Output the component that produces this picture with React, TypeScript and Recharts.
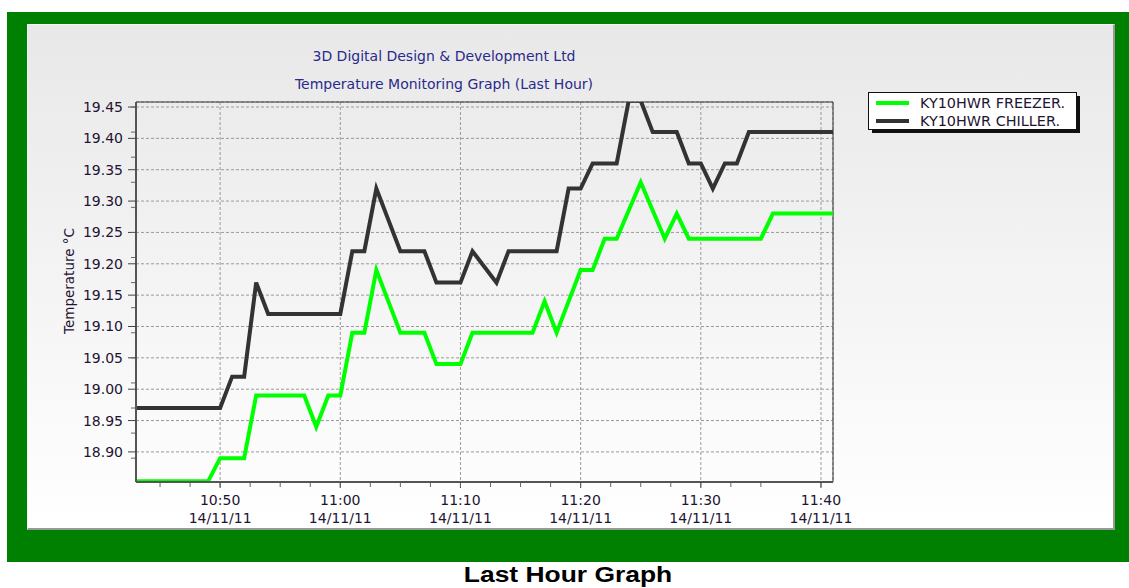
import { LineChart, Line, XAxis, YAxis, CartesianGrid, Legend, ReferenceArea } from "recharts";

// sample times, minutes after 10:00 on 14/11/11
const sampleMinutes = [
  43, 44, 45, 46, 47, 48, 49, 50, 51, 52, 53, 54, 55, 56, 57, 58, 59, 60, 61, 62,
  63, 64, 65, 66, 67, 68, 69, 70, 71, 72, 73, 74, 75, 76, 77, 78, 79, 80, 81, 82,
  83, 84, 85, 86, 87, 88, 89, 90, 91, 92, 93, 94, 95, 96, 97, 98, 99, 100, 101,
];

const freezer = [
  18.853, 18.853, 18.853, 18.853, 18.853, 18.853, 18.853, 18.89, 18.89, 18.89,
  18.99, 18.99, 18.99, 18.99, 18.99, 18.94, 18.99, 18.99, 19.09, 19.09,
  19.19, 19.14, 19.09, 19.09, 19.09, 19.04, 19.04, 19.04, 19.09, 19.09,
  19.09, 19.09, 19.09, 19.09, 19.14, 19.09, 19.14, 19.19, 19.19, 19.24,
  19.24, 19.285, 19.33, 19.285, 19.24, 19.28, 19.24, 19.24, 19.24, 19.24,
  19.24, 19.24, 19.24, 19.28, 19.28, 19.28, 19.28, 19.28, 19.28,
];

const chiller = [
  18.97, 18.97, 18.97, 18.97, 18.97, 18.97, 18.97, 18.97, 19.02, 19.02,
  19.17, 19.12, 19.12, 19.12, 19.12, 19.12, 19.12, 19.12, 19.22, 19.22,
  19.32, 19.27, 19.22, 19.22, 19.22, 19.17, 19.17, 19.17, 19.22, 19.195,
  19.17, 19.22, 19.22, 19.22, 19.22, 19.22, 19.32, 19.32, 19.36, 19.36,
  19.36, 19.46, 19.46, 19.41, 19.41, 19.41, 19.36, 19.36, 19.32, 19.36,
  19.36, 19.41, 19.41, 19.41, 19.41, 19.41, 19.41, 19.41, 19.41,
];

const seriesNames = ["KY10HWR FREEZER.", "KY10HWR CHILLER."];

const xTicks = [50, 60, 70, 80, 90, 100];
const xMinorTicks = [45, 47.5, 50, 52.5, 55, 57.5, 60, 62.5, 65, 67.5, 70, 72.5, 75, 77.5, 80, 82.5, 85, 87.5, 90, 92.5, 95, 97.5, 100];
const yTicks = [18.9, 18.95, 19.0, 19.05, 19.1, 19.15, 19.2, 19.25, 19.3, 19.35, 19.4, 19.45];
const yMinorTicks = [
  18.86, 18.87, 18.88, 18.89, 18.9, 18.91, 18.92, 18.93, 18.94, 18.95, 18.96, 18.97, 18.98, 18.99,
  19.0, 19.01, 19.02, 19.03, 19.04, 19.05, 19.06, 19.07, 19.08, 19.09, 19.1, 19.11, 19.12, 19.13,
  19.14, 19.15, 19.16, 19.17, 19.18, 19.19, 19.2, 19.21, 19.22, 19.23, 19.24, 19.25, 19.26, 19.27,
  19.28, 19.29, 19.3, 19.31, 19.32, 19.33, 19.34, 19.35, 19.36, 19.37, 19.38, 19.39, 19.4, 19.41,
  19.42, 19.43, 19.44, 19.45,
];
const dateLabel = "14/11/11";

const X_DOMAIN = [43, 101];
const Y_DOMAIN = [18.852, 19.458];

const data = sampleMinutes.map((m, i) => ({ t: m, freezer: freezer[i], chiller: chiller[i] }));

const FONT = "'DejaVu Sans', Verdana, sans-serif";
const TEXT = "#1e1433";

const fmtTime = (m: number) => {
  const h = 10 + Math.floor(m / 60);
  const mm = m % 60;
  return `${h}:${mm < 10 ? "0" + mm : mm}`;
};

function TimeTick(props: any) {
  const { x, y, payload } = props;
  return (
    <g>
      <text x={x} y={y} textAnchor="middle" fill={TEXT} fontSize={14} fontFamily={FONT}>
        <tspan x={x} dy={15}>{fmtTime(payload.value)}</tspan>
        <tspan x={x} dy={17.5}>{dateLabel}</tspan>
      </text>
    </g>
  );
}

function NoLabel() {
  return <g />;
}

function LegendBox(props: any) {
  const items = [...(props.payload || [])].sort(
    (a: any, b: any) => seriesNames.indexOf(a.value) - seriesNames.indexOf(b.value)
  );
  return (
    <div style={{ position: "relative", width: 212, height: 41 }}>
      <div style={{ position: "absolute", left: 4, top: 4, width: 208, height: 37, background: "#111" }} />
      <div
        style={{
          position: "absolute", left: 0, top: 0, width: 207, height: 36,
          background: "#fff", border: "1px solid #111",
        }}
      >
        {items.map((p: any, i: number) => (
          <div key={p.value} style={{ position: "absolute", left: 7, top: 2 + i * 18, height: 16, display: "flex", alignItems: "center" }}>
            <div style={{ width: 33, height: 4, background: p.color, marginRight: 11 }} />
            <span style={{ fontFamily: FONT, fontSize: 14.4, color: TEXT, whiteSpace: "nowrap" }}>{p.value}</span>
          </div>
        ))}
      </div>
    </div>
  );
}

const titleStyle: any = {
  position: "absolute", left: 166, width: 500, textAlign: "center",
  fontFamily: FONT, fontSize: 14, color: "#2a2a8c", whiteSpace: "nowrap",
};

export default function App() {
  return (
    <div style={{ position: "fixed", left: 0, top: 0, width: 1129, height: 588, background: "#fff", overflow: "hidden" }}>
      <div style={{ position: "absolute", left: 7, top: 12, width: 1122, height: 550, background: "#008000" }} />
      <div
        style={{
          position: "absolute", left: 27, top: 24, width: 1085, height: 503,
          background: "linear-gradient(#e8e8e8, #ffffff)",
          borderTop: "1px solid #f4f4f4", borderLeft: "1px solid #f4f4f4",
          borderRight: "2px solid #999", borderBottom: "2px solid #999",
          boxSizing: "content-box",
        }}
      >
        <div style={{ ...titleStyle, top: 23 }}>3D Digital Design &amp; Development Ltd</div>
        <div style={{ ...titleStyle, top: 51 }}>Temperature Monitoring Graph (Last Hour)</div>
        <div
          style={{
            position: "absolute", left: 41, top: 256, transform: "translate(-50%, -50%) rotate(-90deg)",
            fontFamily: FONT, fontSize: 13.5, color: TEXT, whiteSpace: "nowrap",
          }}
        >
          Temperature °C
        </div>
        <div style={{ position: "absolute", left: -1, top: -1 }}>
          <LineChart width={1087} height={505} data={data} margin={{ top: 78, right: 281, left: 48, bottom: 1 }}>
            <CartesianGrid xAxisId="main" yAxisId="main" stroke="#9a9a9a" strokeDasharray="3 2" />
            {/* main axes sit against the plot with a 1px box (labels overflow it);
                the minor-tick axes stack just outside, so their ticks end at the edge */}
            <XAxis
              xAxisId="main" dataKey="t" type="number" domain={X_DOMAIN} allowDataOverflow ticks={xTicks} height={1}
              tick={<TimeTick />} tickSize={6} tickLine={{ stroke: "#444" }} axisLine={{ stroke: "#555", strokeWidth: 2 }}
            />
            <XAxis
              xAxisId="minor" dataKey="t" type="number" domain={X_DOMAIN} allowDataOverflow
              ticks={xMinorTicks} height={45} orientation="bottom" tick={<NoLabel />} tickSize={4}
              axisLine={{ stroke: "none" }} tickLine={{ stroke: "#666" }}
            />
            <YAxis
              yAxisId="main" type="number" domain={Y_DOMAIN} allowDataOverflow ticks={yTicks} width={1} tickSize={8}
              tickMargin={5} tickFormatter={(v: number) => v.toFixed(2)}
              tick={{ fill: TEXT, fontSize: 14, fontFamily: FONT }}
              tickLine={{ stroke: "#444" }} axisLine={{ stroke: "#555", strokeWidth: 2 }}
            />
            <YAxis
              yAxisId="minor" type="number" domain={Y_DOMAIN} allowDataOverflow ticks={yMinorTicks}
              width={60} tick={<NoLabel />} tickSize={4} axisLine={{ stroke: "none" }} tickLine={{ stroke: "#666" }}
            />
            <ReferenceArea
              xAxisId="main" yAxisId="main" x1={X_DOMAIN[0]} x2={X_DOMAIN[1]} y1={Y_DOMAIN[0]} y2={Y_DOMAIN[1]}
              fill="none" stroke="#333" strokeWidth={1}
            />
            <Legend
              layout="horizontal" verticalAlign="middle" align="center"
              content={<LegendBox />}
              wrapperStyle={{ position: "absolute", left: 841, top: 68, width: 215 }}
            />
            <Line
              xAxisId="main" yAxisId="main" type="linear" dataKey="freezer" name={seriesNames[0]}
              stroke="#00ff00" strokeWidth={4} dot={false} isAnimationActive={false}
            />
            <Line
              xAxisId="main" yAxisId="main" type="linear" dataKey="chiller" name={seriesNames[1]}
              stroke="#333333" strokeWidth={4} dot={false} isAnimationActive={false}
            />
          </LineChart>
        </div>
      </div>
      <div
        style={{
          position: "absolute", left: 568, top: 562, transform: "translateX(-50%) scaleX(1.2)",
          fontFamily: "'Liberation Sans', Arial, sans-serif", fontWeight: "bold", fontSize: 22, color: "#000",
          whiteSpace: "nowrap",
        }}
      >
        Last Hour Graph
      </div>
    </div>
  );
}
